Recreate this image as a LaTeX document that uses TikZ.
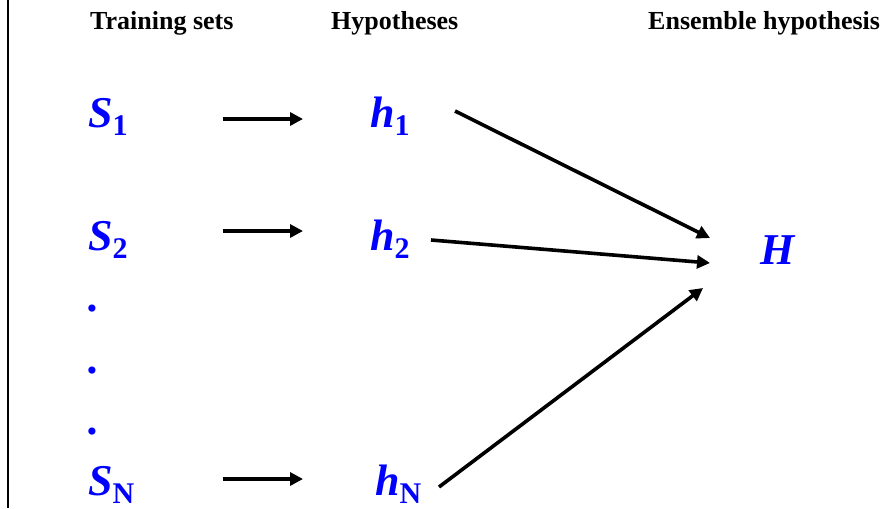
\documentclass[tikz,border=0pt]{standalone}
\usepackage{fontspec}
\setmainfont{Liberation Serif}
\usetikzlibrary{arrows.meta}
\definecolor{symblue}{RGB}{0,0,255}
\newcommand{\headfont}{\fontsize{26}{30}\selectfont\bfseries}
\newcommand{\symfont}{\fontsize{44}{50}\selectfont\bfseries\itshape}
\newcommand{\subsym}[1]{\raisebox{-8pt}{\fontsize{30}{34}\selectfont\bfseries\upshape #1}}
\begin{document}
\begin{tikzpicture}[x=1pt,y=-1pt,
  txt/.style={inner sep=0pt,anchor=base west},
  head/.style={txt,font=\headfont},
  sym/.style={txt,text=symblue,font=\symfont},
  dotnode/.style={inner sep=0pt,anchor=base,text=symblue,font=\symfont},
  arr/.style={line width=3.6pt,-{Triangle[length=13pt,width=13pt]}}]
\useasboundingbox (0,0) rectangle (890,508);
\draw[line width=2.2pt] (8,0) -- (8,508);
% headings
\node[head] (t1) at (90,30) {Training sets};
\node[head] (t2) at (331,30) {Hypotheses};
\node[head] (t3) at (648,30) {Ensemble hypothesis};
% training sets
\node[sym] (S1) at (88,127) {S\subsym{1}};
\node[sym] (S2) at (88,250) {S\subsym{2}};
\node[sym] (SN) at (88,495) {S\subsym{N}};
\node[dotnode] (d1) at (94,311) {.};
\node[dotnode] (d2) at (94,373) {.};
\node[dotnode] (d3) at (94,434) {.};
% hypotheses
\node[sym] (h1) at (370,127) {h\subsym{1}};
\node[sym] (h2) at (370,250) {h\subsym{2}};
\node[sym] (hN) at (375,495) {h\subsym{N}};
% ensemble
\node[sym] (H) at (760,264) {H};
% arrows
\draw[arr] ([shift={(135,-8)}]S1.base west) -- ([shift={(-67,-8)}]h1.base west);
\draw[arr] ([shift={(135,-19)}]S2.base west) -- ([shift={(-67,-19)}]h2.base west);
\draw[arr] ([shift={(135,-16)}]SN.base west) -- ([shift={(-72,-16)}]hN.base west);
\draw[arr] ([shift={(85,-16)}]h1.base west) -- ([shift={(-50,-26)}]H.base west);
\draw[arr] ([shift={(61,-10)}]h2.base west) -- ([shift={(-50,-1)}]H.base west);
\draw[arr] ([shift={(64,-8)}]hN.base west) -- ([shift={(-57,24)}]H.base west);
\end{tikzpicture}
\end{document}
